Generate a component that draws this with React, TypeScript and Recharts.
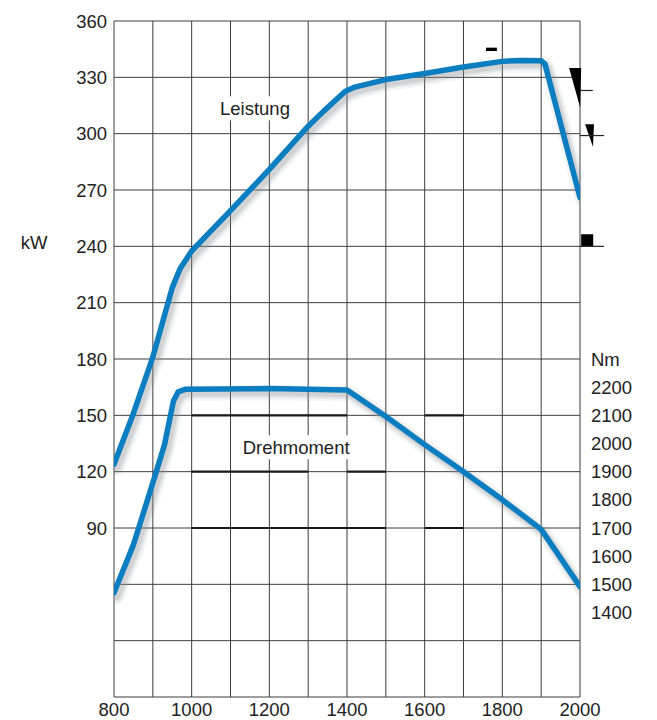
import {
  LineChart,
  Line,
  XAxis,
  YAxis,
  CartesianGrid,
  ReferenceLine,
  ReferenceDot,
  ReferenceArea,
} from "recharts";

// Leistung (kW) over engine speed
const powerRpm = [800, 850, 900, 950, 970, 1000, 1100, 1200, 1300, 1340, 1395, 1420, 1500, 1600, 1700, 1800, 1850, 1900, 1910, 2000];
const powerKw = [124, 151, 181, 218, 228, 237.5, 259, 281, 304, 312, 322.5, 324.8, 328.8, 332, 335.5, 338.5, 339, 338.8, 337, 266];

// Drehmoment (Nm) over engine speed
const torqueRpm = [800, 850, 900, 930, 953, 965, 985, 1200, 1400, 1500, 1600, 1700, 1800, 1900, 2000];
const torqueNm = [1470, 1640, 1860, 1995, 2150, 2183, 2193, 2195, 2190, 2096, 1996, 1900, 1800, 1695, 1492];

const rpmTicks = [800, 900, 1000, 1100, 1200, 1300, 1400, 1500, 1600, 1700, 1800, 1900, 2000];
const kwTicks = [0, 30, 60, 90, 120, 150, 180, 210, 240, 270, 300, 330, 360];
const nmTicks = [1400, 1500, 1600, 1700, 1800, 1900, 2000, 2100, 2200, 2300];

// heavy printed segments on the grid: [kW, rpm from, rpm to]
const boldSegments = [
  [150, 1000, 1400],
  [150, 1600, 1700],
  [120, 1000, 1300],
  [120, 1400, 1500],
  [90, 1000, 1500],
  [90, 1600, 1700],
];

const powerData = powerRpm.map((rpm, i) => ({ rpm, kw: powerKw[i] }));
const torqueData = torqueRpm.map((rpm, i) => ({ rpm, nm: torqueNm[i] }));

const FONT = "'Liberation Sans', Arial, sans-serif";
const BLUE = "#0b7dc1";
const GRID = "#3d3d3d";
const tickStyle = { fontSize: 18.5, fill: "#222", fontFamily: FONT };

// soft drop shadow: same curves through hidden axes shifted ~3px right / ~4px down
const SHIFT_RPM = (3 * 1200) / 466;
const SHIFT_KW = (4 * 360) / 676;
const SHIFT_NM = (4 * 2400) / 676;

function boxedLabel(text: string) {
  return (p: any) => {
    const w = text.length * 10.2;
    return (
      <g>
        <rect x={p.cx - w / 2 - 3} y={p.cy - 12} width={w + 6} height={24} fill="#fff" />
        <text
          x={p.cx}
          y={p.cy}
          dy="0.355em"
          textAnchor="middle"
          fontSize={18.5}
          fontFamily={FONT}
          fill="#222"
        >
          {text}
        </text>
      </g>
    );
  };
}

const wedge = (p: any) => (
  <polygon
    points={`${p.x},${p.y} ${p.x + p.width},${p.y} ${p.x + p.width - 1},${p.y + p.height}`}
    fill="#000"
  />
);

export default function App() {
  const shadowProps = {
    xAxisId: "rpmShadow",
    type: "linear" as const,
    stroke: "#8a9096",
    strokeLinecap: "round" as const,
    strokeLinejoin: "round" as const,
    dot: false,
    activeDot: false,
    isAnimationActive: false,
  };
  return (
    <div style={{ position: "fixed", left: 0, top: 0, width: 657, height: 720, background: "#fff" }}>
      <LineChart width={657} height={720} margin={{ top: 21, right: 0, bottom: 0, left: 0 }}>
        <CartesianGrid xAxisId="rpm" yAxisId="kw" stroke={GRID} strokeWidth={1} fill="none" />
        <XAxis
          xAxisId="rpm"
          type="number"
          dataKey="rpm"
          domain={[800, 2000]}
          ticks={rpmTicks}
          interval={0}
          tickFormatter={(v: number) => (v % 200 === 0 ? String(v) : "")}
          tick={tickStyle}
          tickLine={false}
          axisLine={false}
          tickMargin={0}
          height={23}
          allowDataOverflow
        />
        <XAxis
          xAxisId="rpmShadow"
          type="number"
          dataKey="rpm"
          domain={[800 - SHIFT_RPM, 2000 - SHIFT_RPM]}
          allowDataOverflow
          hide
        />
        <YAxis
          yAxisId="kw"
          type="number"
          domain={[0, 360]}
          ticks={kwTicks}
          interval={0}
          tickFormatter={(v: number) => (v >= 90 ? String(v) : "")}
          tick={tickStyle}
          tickLine={false}
          axisLine={false}
          tickMargin={1}
          width={114}
          label={() => (
            <text x={34} y={242} dy="0.355em" textAnchor="middle" fontSize={18.5} fontFamily={FONT} fill="#222">
              kW
            </text>
          )}
        />
        <YAxis
          yAxisId="nm"
          orientation="right"
          type="number"
          domain={[1100, 3500]}
          ticks={nmTicks}
          interval={0}
          tickFormatter={(v: number) => (v === 2300 ? "Nm" : String(v))}
          tick={tickStyle}
          tickLine={false}
          axisLine={false}
          tickMargin={5}
          width={77}
        />
        <YAxis yAxisId="kwShadow" type="number" domain={[SHIFT_KW, 360 + SHIFT_KW]} allowDataOverflow hide />
        <YAxis yAxisId="nmShadow" type="number" domain={[1100 + SHIFT_NM, 3500 + SHIFT_NM]} allowDataOverflow hide />

        {boldSegments.map(([kw, a, b], i) => (
          <ReferenceLine
            key={`seg-${i}`}
            xAxisId="rpm"
            yAxisId="kw"
            segment={[
              { x: a, y: kw },
              { x: b, y: kw },
            ]}
            stroke="#1a1a1a"
            strokeWidth={2.2}
          />
        ))}

        {/* print marks at the right edge */}
        <ReferenceArea xAxisId="rpm" yAxisId="kw" x1={1972} x2={2003} y1={314} y2={335} ifOverflow="visible" shape={wedge} />
        <ReferenceArea xAxisId="rpm" yAxisId="kw" x1={2013} x2={2036} y1={293} y2={305} ifOverflow="visible" shape={wedge} />
        <ReferenceArea xAxisId="rpm" yAxisId="kw" x1={2003} x2={2034} y1={240} y2={246.5} ifOverflow="visible" fill="#000" fillOpacity={1} stroke="none" />
        <ReferenceArea xAxisId="rpm" yAxisId="kw" x1={1758} x2={1786} y1={344} y2={345.8} ifOverflow="visible" fill="#000" fillOpacity={1} stroke="none" />
        <ReferenceLine xAxisId="rpm" yAxisId="kw" ifOverflow="visible" segment={[{ x: 2000, y: 323 }, { x: 2033, y: 323 }]} stroke="#222" strokeWidth={1.2} />
        <ReferenceLine xAxisId="rpm" yAxisId="kw" ifOverflow="visible" segment={[{ x: 2000, y: 299 }, { x: 2062, y: 299 }]} stroke="#222" strokeWidth={1.2} />
        <ReferenceLine xAxisId="rpm" yAxisId="kw" ifOverflow="visible" segment={[{ x: 2000, y: 240 }, { x: 2062, y: 240 }]} stroke="#222" strokeWidth={1.2} />

        <ReferenceDot xAxisId="rpm" yAxisId="kw" x={1163} y={313.5} r={0} shape={boxedLabel("Leistung")} />
        <ReferenceDot xAxisId="rpm" yAxisId="kw" x={1269} y={133} r={0} shape={boxedLabel("Drehmoment")} />

        <Line {...shadowProps} yAxisId="kwShadow" data={powerData} dataKey="kw" name="ps1" strokeWidth={15} strokeOpacity={0.1} />
        <Line {...shadowProps} yAxisId="kwShadow" data={powerData} dataKey="kw" name="ps2" strokeWidth={10} strokeOpacity={0.16} />
        <Line {...shadowProps} yAxisId="kwShadow" data={powerData} dataKey="kw" name="ps3" strokeWidth={6} strokeOpacity={0.2} />
        <Line {...shadowProps} yAxisId="nmShadow" data={torqueData} dataKey="nm" name="ts1" strokeWidth={15} strokeOpacity={0.1} />
        <Line {...shadowProps} yAxisId="nmShadow" data={torqueData} dataKey="nm" name="ts2" strokeWidth={10} strokeOpacity={0.16} />
        <Line {...shadowProps} yAxisId="nmShadow" data={torqueData} dataKey="nm" name="ts3" strokeWidth={6} strokeOpacity={0.2} />

        <Line
          xAxisId="rpm"
          yAxisId="kw"
          data={powerData}
          dataKey="kw"
          type="linear"
          stroke={BLUE}
          strokeWidth={5.5}
          strokeLinecap="round"
          strokeLinejoin="round"
          dot={false}
          activeDot={false}
          isAnimationActive={false}
        />
        <Line
          xAxisId="rpm"
          yAxisId="nm"
          data={torqueData}
          dataKey="nm"
          type="linear"
          stroke={BLUE}
          strokeWidth={5.5}
          strokeLinecap="round"
          strokeLinejoin="round"
          dot={false}
          activeDot={false}
          isAnimationActive={false}
        />
      </LineChart>
    </div>
  );
}
